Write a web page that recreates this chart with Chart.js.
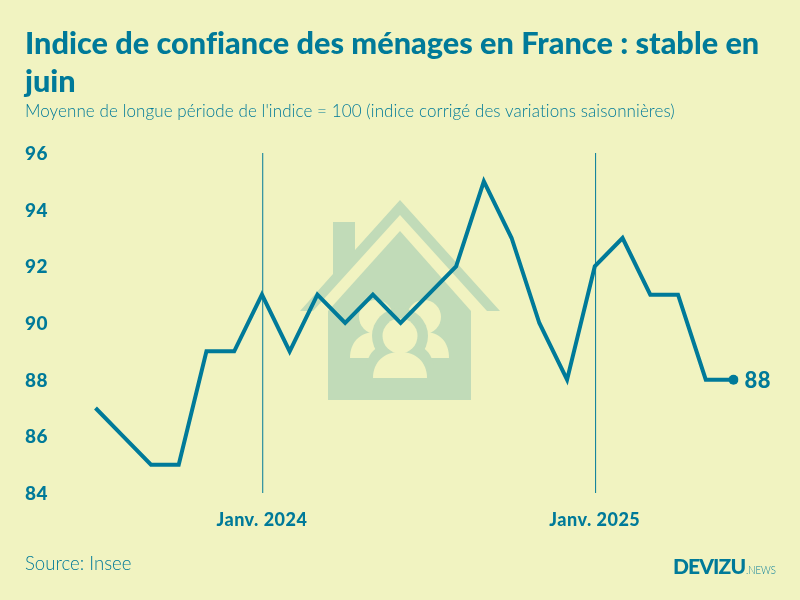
<!DOCTYPE html>
<html lang="fr">
<head>
<meta charset="utf-8">
<script src="https://cdn.jsdelivr.net/npm/chart.js@4"></script>
<style>
  html, body { margin: 0; padding: 0; }
  body { width: 800px; height: 600px; background: #f1f3c1; position: relative; overflow: hidden; font-family: Lato, sans-serif; color: #007a99; font-variant-ligatures: none; }
  #maison, #graphe { position: absolute; left: 0; top: 0; }
  .txt { position: absolute; white-space: nowrap; }
  #titre { left: 25px; top: 24px; width: 750px; white-space: normal; font-size: 30.7px; font-weight: 900; line-height: 38px; }
  #soustitre { left: 25px; top: 100px; font-size: 17px; font-weight: 300; letter-spacing: .09px; }
  #source { left: 25px; top: 552px; font-size: 18.6px; font-weight: 300; }
  #logo { left: 673px; top: 553px; font-size: 21px; font-weight: 900; letter-spacing: -.9px; }
  #logo span { display: inline-block; font-size: 11px; font-weight: 300; letter-spacing: 0; margin-left: 1px; transform: scaleX(.87); transform-origin: left; }
</style>
</head>
<body>
<svg id="maison" width="800" height="600">
  <g fill="#c1dbb8">
    <path d="M328 311 L400 231 L471 311 V400 H328 Z"/>
    <path d="M300 311 L333 274 V222 H355 V250 L400 200 L500 311 H487 L400 215 L313 311 Z"/>
  </g>
  <g fill="#f1f3c1">
    <circle cx="376" cy="317" r="17"/>
    <circle cx="424" cy="317" r="17"/>
    <path d="M350 358 C350 342 360 332 376 332 H424 C440 332 449 342 449 358 Z"/>
  </g>
  <circle cx="400" cy="336" r="28" fill="#c1dbb8"/>
  <path d="M366 385 V372 C366 350 380 342 400 342 C420 342 434 350 434 372 V385 Z" fill="#c1dbb8"/>
  <g fill="#f1f3c1">
    <circle cx="400" cy="336" r="17.5"/>
    <path d="M373 378 C373 362 384 352 400 352 C416 352 427 362 427 378 Z"/>
  </g>
</svg>
<canvas id="graphe" width="800" height="600"></canvas>
<div class="txt" id="titre">Indice de confiance des ménages en France : stable en juin</div>
<div class="txt" id="soustitre">Moyenne de longue période de l'indice = 100 (indice corrigé des variations saisonnières)</div>
<div class="txt" id="source">Source: Insee</div>
<div class="txt" id="logo">DEVIZU<span>.NEWS</span></div>
<script>
const mois = ['juil. 2023','août 2023','sept. 2023','oct. 2023','nov. 2023','déc. 2023',
  'Janv. 2024','févr. 2024','mars 2024','avr. 2024','mai 2024','juin 2024',
  'juil. 2024','août 2024','sept. 2024','oct. 2024','nov. 2024','déc. 2024',
  'Janv. 2025','févr. 2025','mars 2025','avr. 2025','mai 2025','juin 2025'];
const indice = [87,86,85,85,89,89,91,89,91,90,91,90,91,92,95,93,90,88,92,93,91,91,88,88];
const moisAffiches = ['Janv. 2024','Janv. 2025'];
const ticksY = [84,86,88,90,92,94,96];

const bleu = '#007a99';
const dernier = indice.length - 1;

// lignes verticales de janvier + texte un peu espace comme l'original
const lignesJanvier = {
  id: 'lignesJanvier',
  beforeDraw(chart) {
    chart.ctx.letterSpacing = '0.5px';
  },
  beforeDatasetsDraw(chart) {
    const { ctx, chartArea, scales: { x } } = chart;
    ctx.save();
    ctx.strokeStyle = bleu;
    ctx.lineWidth = 1;
    moisAffiches.forEach(m => {
      const px = x.getPixelForValue(mois.indexOf(m)) + 0.8;
      ctx.beginPath();
      ctx.moveTo(px, chartArea.top);
      ctx.lineTo(px, chartArea.bottom);
      ctx.stroke();
    });
    ctx.restore();
  }
};

// valeur de fin de courbe, a droite du point
const etiquetteFin = {
  id: 'etiquetteFin',
  afterDatasetsDraw(chart) {
    const { ctx, scales: { x, y } } = chart;
    ctx.save();
    ctx.fillStyle = bleu;
    ctx.font = '900 22px Lato';
    ctx.textBaseline = 'middle';
    ctx.fillText(indice[dernier], x.getPixelForValue(dernier) + 11, y.getPixelForValue(indice[dernier]) + 1);
    ctx.restore();
  }
};

new Chart(document.getElementById('graphe'), {
  type: 'line',
  data: {
    labels: mois,
    datasets: [{
      data: indice,
      borderColor: bleu,
      backgroundColor: bleu,
      borderWidth: 4,
      tension: 0,
      borderJoinStyle: 'miter',
      pointRadius: c => c.dataIndex === dernier ? 5 : 0,
      pointBorderWidth: 0,
      pointHoverRadius: 0
    }]
  },
  options: {
    responsive: false,
    animation: false,
    layout: { padding: { left: 25, right: 66.5, top: 153, bottom: 0 } },
    plugins: { legend: { display: false }, tooltip: { enabled: false } },
    scales: {
      x: {
        offset: false,
        border: { display: false },
        afterFit: s => { s.height = 107; },
        grid: { display: false },
        ticks: {
          autoSkip: false,
          maxRotation: 0,
          padding: 8,
          color: bleu,
          font: { family: 'Lato', size: 18, weight: '900' },
          callback: (v, i) => moisAffiches.includes(mois[i]) ? mois[i] : ''
        }
      },
      y: {
        min: 84,
        max: 96,
        afterFit: s => { s.width = 70.5; },
        afterBuildTicks: s => { s.ticks = ticksY.map(value => ({ value })); },
        border: { display: false },
        grid: { display: false },
        ticks: {
          crossAlign: 'far',
          padding: 0,
          labelOffset: 1,
          color: bleu,
          font: { family: 'Lato', size: 19, weight: '900' }
        }
      }
    }
  },
  plugins: [lignesJanvier, etiquetteFin]
});
</script>
</body>
</html>
